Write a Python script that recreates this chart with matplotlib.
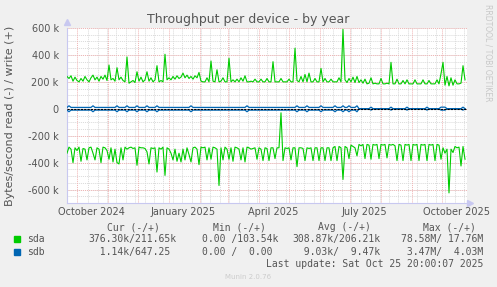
import numpy as np
import pandas as pd
import matplotlib
matplotlib.use("Agg")
import matplotlib.pyplot as plt

# ---------------- data (k bytes/s, one sample every 2 days) ----------------
start = pd.Timestamp("2024-09-20 20:00")
end = pd.Timestamp("2025-10-25 20:00")

sda_write = [
    240, 225, 245, 205, 235, 210, 200, 225, 205, 240, 215, 200, 230, 250, 215, 235, 205, 240, 220, 250,
    210, 325, 215, 225, 205, 305, 215, 235, 210, 200, 385, 190, 200, 210, 195, 275, 205, 235, 200, 215,
    275, 205, 230, 200, 215, 320, 200, 210, 200, 405, 215, 230, 215, 240, 220, 245, 225, 235, 265, 230,
    250, 225, 240, 220, 245, 230, 270, 205, 200, 200, 230, 200, 355, 205, 200, 290, 200, 205, 230, 200,
    200, 375, 200, 215, 200, 220, 200, 230, 205, 245, 200, 200, 205, 200, 220, 200, 200, 220, 200, 200,
    225, 200, 200, 350, 200, 200, 200, 225, 200, 200, 200, 220, 200, 200, 450, 210, 200, 240, 200, 255,
    200, 265, 200, 200, 225, 200, 200, 300, 200, 225, 200, 200, 220, 200, 200, 200, 230, 200, 590, 215,
    195, 225, 200, 235, 195, 240, 195, 215, 190, 220, 185, 190, 230, 185, 190, 185, 185, 225, 185, 185,
    190, 185, 345, 185, 185, 220, 185, 185, 210, 185, 215, 185, 185, 185, 215, 185, 185, 185, 215, 185,
    185, 210, 185, 185, 185, 215, 185, 260, 345, 175, 240, 170, 230, 175, 215, 185, 185, 190, 320, 215,
]

sda_read = [
    330, 285, 300, 400, 290, 310, 285, 390, 295, 300, 380, 290, 285, 330, 380, 290, 300, 400, 285, 290,
    310, 375, 290, 395, 300, 400, 410, 290, 380, 285, 300, 290, 285, 295, 290, 420, 285, 290, 290, 295,
    320, 410, 290, 295, 290, 470, 290, 300, 285, 495, 290, 300, 330, 380, 300, 390, 330, 395, 300, 380,
    290, 340, 395, 290, 285, 300, 415, 285, 290, 285, 380, 290, 375, 285, 290, 300, 570, 290, 380, 285,
    300, 375, 290, 390, 285, 290, 300, 380, 290, 395, 285, 290, 300, 295, 290, 375, 290, 300, 385, 290,
    295, 385, 290, 290, 370, 290, 290, 30, 385, 290, 295, 290, 380, 290, 290, 430, 290, 290, 295, 385,
    290, 295, 290, 385, 290, 290, 385, 290, 290, 385, 290, 290, 385, 290, 280, 385, 280, 290, 525, 280,
    290, 370, 270, 280, 290, 350, 265, 275, 265, 370, 265, 270, 375, 265, 270, 265, 370, 265, 270, 265,
    365, 265, 270, 265, 275, 385, 265, 270, 385, 265, 270, 265, 385, 265, 270, 265, 385, 265, 270, 265,
    385, 265, 270, 265, 385, 265, 270, 375, 290, 330, 300, 625, 300, 325, 280, 290, 285, 425, 280, 375,
]

sdb_write = [
    10, 22, 10, 10, 10, 10, 10, 10, 10, 10, 10, 10, 10, 22, 10, 10, 10, 10, 10, 10,
    10, 10, 10, 10, 10, 22, 10, 10, 10, 10, 22, 10, 10, 10, 10, 22, 10, 10, 10, 10,
    22, 10, 10, 10, 10, 22, 10, 10, 10, 10, 10, 10, 10, 10, 10, 10, 10, 10, 10, 10,
    10, 10, 22, 10, 10, 10, 10, 10, 10, 10, 10, 10, 10, 10, 10, 10, 10, 10, 10, 10,
    10, 10, 10, 10, 10, 10, 10, 10, 10, 10, 22, 10, 10, 10, 10, 10, 10, 10, 10, 10,
    10, 10, 10, 10, 10, 10, 10, 10, 10, 10, 10, 10, 10, 10, 10, 22, 10, 10, 10, 10,
    22, 10, 10, 10, 10, 10, 10, 22, 10, 10, 10, 10, 10, 10, 22, 10, 10, 10, 22, 10,
    10, 22, 10, 10, 10, 22, 1, 1, 1, 1, 1, 1, 12, 1, 1, 1, 1, 1, 1, 1,
    1, 1, 12, 1, 1, 1, 1, 1, 1, 1, 12, 1, 1, 1, 1, 1, 1, 1, 1, 1,
    12, 1, 1, 1, 1, 1, 1, 12, 12, 12, 1, 1, 1, 1, 1, 1, 1, 1, 12, 1,
]

sdb_read = [
    10, 22, 10, 10, 10, 10, 10, 10, 10, 10, 10, 10, 10, 22, 10, 10, 10, 10, 10, 10,
    10, 10, 10, 10, 10, 22, 10, 10, 10, 10, 22, 10, 10, 10, 10, 22, 10, 10, 10, 10,
    22, 10, 10, 10, 10, 22, 10, 10, 10, 10, 10, 10, 10, 10, 10, 10, 10, 10, 10, 10,
    10, 10, 22, 10, 10, 10, 10, 10, 10, 10, 10, 10, 10, 10, 10, 10, 10, 10, 10, 10,
    10, 10, 10, 10, 10, 10, 10, 10, 10, 10, 22, 10, 10, 10, 10, 10, 10, 10, 10, 10,
    10, 10, 10, 10, 10, 10, 10, 10, 10, 10, 10, 10, 10, 10, 10, 22, 10, 10, 10, 10,
    22, 10, 10, 10, 10, 10, 10, 22, 10, 10, 10, 10, 10, 10, 22, 10, 10, 10, 22, 10,
    10, 22, 10, 10, 10, 22, 1, 1, 1, 1, 1, 1, 10, 1, 1, 1, 1, 1, 1, 1,
    1, 1, 10, 1, 1, 1, 1, 1, 1, 1, 10, 1, 1, 1, 1, 1, 1, 1, 1, 1,
    10, 1, 1, 1, 1, 1, 1, 10, 10, 10, 1, 1, 1, 1, 1, 1, 1, 1, 10, 1,
]

series_names = ["sda", "sdb"]
series_colors = ["#00CC00", "#0066B3"]
legend_cur = ["376.30k/211.65k", "  1.14k/647.25 "]
legend_min = ["0.00 /103.54k", "0.00 /  0.00 "]
legend_avg = ["308.87k/206.21k", "  9.03k/  9.47k"]
legend_max = ["78.58M/ 17.76M", " 3.47M/  4.03M"]

y_ticks = [-600, -400, -200, 0, 200, 400, 600]
y_ticklabels = ["-600 k", "-400 k", "-200 k", "0", "200 k", "400 k", "600 k"]
x_labels = ["October 2024", "January 2025", "April 2025", "July 2025", "October 2025"]
x_label_dates = ["2024-10-15", "2025-01-15", "2025-04-15", "2025-07-15", "2025-10-15"]

# ---------------- figure ----------------
W, H = 497, 287
fig = plt.figure(figsize=(W / 100, H / 100), dpi=100, facecolor="#F0F0F0")
ax = fig.add_axes([67 / W, 1 - 203 / H, 400 / W, 175 / H])
ax.set_facecolor("white")

dates = pd.date_range(start, periods=len(sda_write), freq="2D")
sda_w = np.array(sda_write) * 1000.0
sda_r = -np.array(sda_read) * 1000.0
sdb_w = np.array(sdb_write) * 1000.0
sdb_r = -np.array(sdb_read) * 1000.0

ax.set_xlim(start, end)
ax.set_ylim(-700000, 600000)

# grid
minor_col = "#dadada"
major_col = "#f0b4b4"
dot = (0, (1, 1))
for v in np.arange(-700000, 600001, 50000):
    ax.axhline(v, color=minor_col, lw=0.7, ls=dot, zorder=1)
for v in np.arange(-600000, 600001, 200000):
    ax.axhline(v, color=major_col, lw=0.7, ls=dot, zorder=1.2)

minor_days = np.arange(21.3, 400, 9.4)
for d in minor_days:
    ax.axvline(start + pd.Timedelta(days=float(d)), color=minor_col, lw=0.7, ls=dot, zorder=1)
for m in pd.date_range("2024-10-01", "2025-10-01", freq="MS"):
    ax.axvline(m, color=major_col, lw=0.7, ls=dot, zorder=1.2)

# data
ax.plot(dates, sda_w, color=series_colors[0], lw=0.8, zorder=3)
ax.plot(dates, sda_r, color=series_colors[0], lw=0.8, zorder=3)
ax.plot(dates, sdb_w, color=series_colors[1], lw=0.9, zorder=4)
ax.plot(dates, sdb_r, color=series_colors[1], lw=0.9, zorder=4)
ax.axhline(0, color="black", lw=0.8, ls=(0, (2, 1)), zorder=5)

# axes
for s in ["top", "right"]:
    ax.spines[s].set_visible(False)
for s in ["left", "bottom"]:
    ax.spines[s].set_color("#c8c8f0")
    ax.spines[s].set_linewidth(0.8)
ax.plot([0], [1.035], marker="^", ms=4, color="#c8c8f0", transform=ax.transAxes, clip_on=False)
ax.plot([1.008], [0], marker=">", ms=4, color="#c8c8f0", transform=ax.transAxes, clip_on=False)

txt_col = "#555555"
ax.set_yticks([v * 1000 for v in y_ticks])
ax.set_yticklabels(y_ticklabels, fontsize=7, color=txt_col)
ax.set_xticks([pd.Timestamp(d) for d in x_label_dates])
ax.set_xticklabels(x_labels, fontsize=7, color=txt_col)
ax.tick_params(axis="both", length=0)
ax.tick_params(axis="y", pad=6)
ax.tick_params(axis="x", pad=3)

fig.text(10 / W, 1 - 116 / H, "Bytes/second read (-) / write (+)", rotation=90, ha="center",
         va="center", fontsize=8, color=txt_col)

fig.text(248 / W, 1 - 19 / H, "Throughput per device - by year", ha="center", va="center",
         fontsize=9, color=txt_col)
fig.text(488 / W, 1 - 53 / H, "RRDTOOL / TOBI OETIKER", rotation=270, ha="center", va="center",
         fontsize=5.5, color="#c8c8c8")

# legend
mono = "DejaVu Sans Mono"
hy = 1 - 227 / H
fig.text(160 / W, hy, "Cur (-/+)", ha="right", va="center", fontsize=7, family=mono, color=txt_col)
fig.text(266 / W, hy, "Min (-/+)", ha="right", va="center", fontsize=7, family=mono, color=txt_col)
fig.text(371 / W, hy, "Avg (-/+)", ha="right", va="center", fontsize=7, family=mono, color=txt_col)
fig.text(476 / W, hy, "Max (-/+)", ha="right", va="center", fontsize=7, family=mono, color=txt_col)
row_y = [1 - 239 / H, 1 - 252 / H]
for i in range(len(series_names)):
    y = row_y[i]
    fig.patches.append(plt.Rectangle((14 / W, y - 3 / H), 6 / W, 6 / H, transform=fig.transFigure,
                                     color=series_colors[i]))
    fig.text(27 / W, y, series_names[i], ha="left", va="center", fontsize=7, family=mono, color=txt_col)
    fig.text(176 / W, y, legend_cur[i], ha="right", va="center", fontsize=7, family=mono, color=txt_col)
    fig.text(278 / W, y, legend_min[i], ha="right", va="center", fontsize=7, family=mono, color=txt_col)
    fig.text(380 / W, y, legend_avg[i], ha="right", va="center", fontsize=7, family=mono, color=txt_col)
    fig.text(483 / W, y, legend_max[i], ha="right", va="center", fontsize=7, family=mono, color=txt_col)
fig.text(483 / W, 1 - 264 / H, "Last update: Sat Oct 25 20:00:07 2025", ha="right", va="center",
         fontsize=7, family=mono, color=txt_col)
fig.text(248 / W, 1 - 277 / H, "Munin 2.0.76", ha="center", va="center", fontsize=5,
         color="#cccccc")

fig.savefig("out.png", dpi=100, facecolor=fig.get_facecolor())
